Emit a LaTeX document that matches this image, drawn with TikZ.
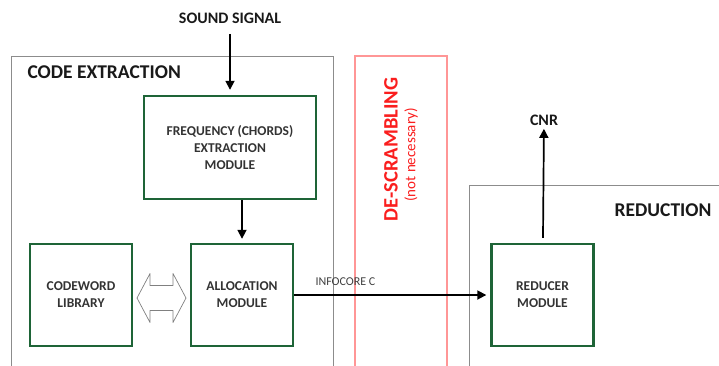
\documentclass[tikz,border=0pt]{standalone}
\usepackage{fontspec}
\setmainfont{Carlito}
\usetikzlibrary{arrows.meta}
\definecolor{modgreen}{RGB}{30,100,55}
\definecolor{descrtext}{RGB}{250,30,30}
\definecolor{descrline}{RGB}{255,150,150}
\begin{document}
\begin{tikzpicture}[x=1pt, y=-1pt,
  module/.style={draw=modgreen, line width=2.4pt, minimum width=102pt, minimum height=102pt, align=center, font=\bfseries\fontsize{13.5}{17}\selectfont, text=black!80},
  stage/.style={draw=black!45, line width=0.9pt},
  title/.style={font=\bfseries\fontsize{19.5}{22}\selectfont, text=black!90},
  flow/.style={line width=1.7pt, -{Triangle[length=9pt,width=9pt]}},
  note/.style={font=\bfseries\fontsize{16}{18}\selectfont, text=black!90}
]
\useasboundingbox (0,0) rectangle (719,365);
\clip (0,0) rectangle (719,365);

\draw[stage] (11,56) rectangle (333,380);
\draw[draw=descrline, line width=1.1pt] (355,56) rectangle (447,380);
\draw[stage] (469,185) rectangle (740,380);

\node[title, anchor=west] (extr) at (24,72) {CODE EXTRACTION};
\node[title, anchor=east] (redu) at (715,210) {REDUCTION};
\node[title, rotate=90, text=descrtext, font=\bfseries\fontsize{20.5}{22}\selectfont] (descr) at (391,149.5) {DE-SCRAMBLING};
\node[rotate=90, text=descrtext, font=\fontsize{15}{17}\selectfont] (descrnote) at (411,155) {(not necessary)};

\node[module, minimum width=172pt, minimum height=103pt] (freq) at (230,147.5) {FREQUENCY (CHORDS)\\EXTRACTION\\MODULE};
\foreach \name/\x/\txt in {codeword/81/CODEWORD\\LIBRARY, alloc/242/ALLOCATION\\MODULE, reducer/542.5/REDUCER\\MODULE}
  \node[module] (\name) at (\x,295) {\txt};

\node[note] (sound) at (230,18) {SOUND SIGNAL};
\node[note] (cnr) at (544,120) {CNR};
\node[font=\fontsize{12}{14}\selectfont, text=black!75, anchor=west] (infocore) at (312,282) {INFOCORE C};

% hollow two-way arrow between library and allocation
\coordinate (xchg) at (161.5,298);
\draw[draw=black!50, fill=white, line width=0.7pt, line join=round]
  ([xshift=-24.5pt]xchg) -- ++(13,-24.5) -- ++(0,12) -- ++(23,0) -- ++(0,-12)
  -- ([xshift=24.5pt]xchg) -- ++(-13,24.5) -- ++(0,-12) -- ++(-23,0) -- ++(0,12) -- cycle;

\draw[flow, shorten <=7pt, shorten >=5pt] (sound) -- (freq);
\draw[flow, shorten >=4pt] (freq.south -| alloc) -- (alloc);
\draw[flow, shorten >=4pt] (alloc.east) -- (reducer.west);
\draw[flow, shorten <=5pt] (reducer) -- (cnr);
\end{tikzpicture}
\end{document}
